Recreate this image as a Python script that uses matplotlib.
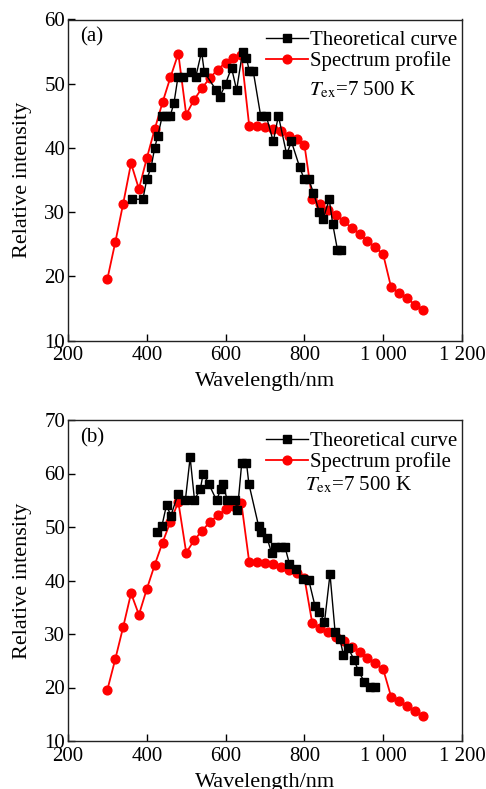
import matplotlib
matplotlib.use("Agg")
import matplotlib.pyplot as plt
from matplotlib.ticker import FixedLocator, FuncFormatter

plt.rcParams['font.family'] = ['Liberation Serif', 'DejaVu Serif']
plt.rcParams['mathtext.fontset'] = 'stix'

# Spectrum profile (same in both panels)
spec_x = list(range(300, 1101, 20))
spec_y = [19.6, 25.3, 31.3, 37.6, 33.6, 38.4, 42.9, 47.1, 51.0, 54.7,
          45.2, 47.5, 49.3, 50.9, 52.2, 53.3, 54.0, 54.5, 43.4, 43.4,
          43.3, 43.0, 42.6, 41.9, 41.4, 40.5, 32.0, 31.2, 30.3, 29.5,
          28.6, 27.5, 26.6, 25.5, 24.5, 23.4, 18.3, 17.4, 16.6, 15.6, 14.7]

# Theoretical curve, panel (a)
theo_a_x = [362, 390, 400, 411, 420, 428, 439, 449, 459, 469, 479, 491, 512, 524,
            539, 546, 576, 586, 600, 615, 628, 643, 653, 660, 670, 689, 703, 721,
            734, 755, 767, 788, 799, 811, 823, 838, 848, 863, 872, 884, 893]
theo_a_y = [32.0, 32.0, 35.1, 37.0, 40.0, 41.9, 44.9, 44.9, 44.9, 47.0, 51.0, 51.0, 51.8, 51.0,
            55.0, 51.8, 49.0, 48.0, 50.0, 52.5, 49.0, 55.0, 54.0, 52.0, 52.0, 45.0, 45.0, 41.0,
            45.0, 39.0, 41.0, 37.0, 35.2, 35.1, 33.0, 30.0, 29.0, 32.0, 28.1, 24.1, 24.1]

# Theoretical curve, panel (b)
theo_b_x = [426, 438, 450, 461, 479, 498, 510, 521, 536, 543, 557, 577, 588, 594,
            604, 623, 630, 641, 653, 659, 684, 690, 705, 717, 726, 740, 751, 762,
            779, 797, 811, 827, 838, 851, 865, 878, 890, 899, 911, 926, 937, 952,
            967, 979]
theo_b_y = [49.1, 50.1, 54.1, 52.1, 56.1, 55.1, 63.0, 55.1, 57.1, 60.0, 58.1, 55.0, 57.1, 58.1,
            55.0, 55.1, 53.1, 62.0, 62.0, 58.1, 50.1, 49.1, 48.0, 45.1, 46.2, 46.2, 46.2, 43.1,
            42.2, 40.2, 40.1, 35.2, 34.2, 32.2, 41.2, 30.3, 29.1, 26.1, 27.4, 25.2, 23.1, 21.1,
            20.1, 20.1]

x_ticks = [200, 400, 600, 800, 1000, 1200]
a_yticks = [10, 20, 30, 40, 50, 60]
b_yticks = [10, 20, 30, 40, 50, 60, 70]

fig = plt.figure(figsize=(4.86, 7.89), dpi=100)
W, H = 486, 789

def ax_rect(l, t, r, b):
    return [l / W, 1 - b / H, (r - l) / W, (b - t) / H]

def fmt(v, pos):
    v = int(v)
    if v >= 1000:
        return f"{v // 1000} {v % 1000:03d}"
    return str(v)

panels = [
    (ax_rect(68, 19.5, 462, 340.5), theo_a_x, theo_a_y, a_yticks, '(a)', 0.612, 0.780),
    (ax_rect(68, 420, 462, 741), theo_b_x, theo_b_y, b_yticks, '(b)', 0.601, 0.797),
]

fs = 15
lfs = 16
for rect, tx, ty, yt, lab, tex, tey in panels:
    ax = fig.add_axes(rect)
    ax.plot(tx, ty, color='black', lw=1.0, marker='s', ms=5.2,
            label='Theoretical curve', zorder=3)
    ax.plot(spec_x, spec_y, color='#ff0000', lw=1.3, marker='o', ms=6.3,
            label='Spectrum profile', zorder=2)
    ax.set_xlim(200, 1200)
    ax.set_ylim(yt[0], yt[-1])
    ax.xaxis.set_major_locator(FixedLocator(x_ticks))
    ax.yaxis.set_major_locator(FixedLocator(yt))
    ax.xaxis.set_major_formatter(FuncFormatter(fmt))
    ax.tick_params(axis='x', direction='in', length=5, width=1, labelsize=fs, pad=4,
                   top=False)
    ax.tick_params(axis='y', direction='in', length=5, width=1, labelsize=fs, pad=2,
                   right=False)
    for s in ax.spines.values():
        s.set_linewidth(1.0)
        s.set_color('#222222')
    ax.set_xlabel('Wavelength/nm', fontsize=lfs, labelpad=5)
    ax.set_ylabel('Relative intensity', fontsize=lfs, labelpad=9)
    ax.text(0.03, 0.945, lab, transform=ax.transAxes, fontsize=fs,
            ha='left', va='center')
    ax.legend(loc='upper right', bbox_to_anchor=(1.0137, 0.997), frameon=False,
              fontsize=fs, handlelength=2.0, handletextpad=0.1, labelspacing=0.05,
              borderaxespad=0.3, borderpad=0.2)
    ax.text(tex, tey, r'$T_{\mathrm{ex}}$=7 500 K', transform=ax.transAxes,
            fontsize=fs, ha='left', va='center')

fig.savefig('out.png', dpi=100)
